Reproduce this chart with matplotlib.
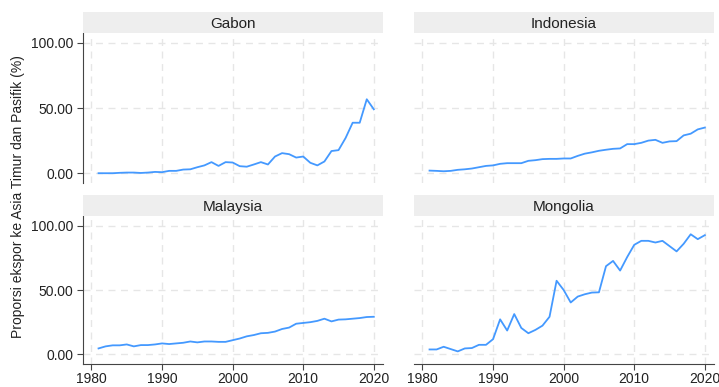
import matplotlib
matplotlib.use("Agg")
import matplotlib.pyplot as plt
import numpy as np

plt.rcParams["font.family"] = ["Liberation Sans", "DejaVu Sans"]

# export share to East Asia & Pacific, 1981-2020
years = np.arange(1981, 2021)

gabon = [0, 0, 0, 0.3, 0.5, 0.5, 0.2, 0.5, 1, 0.8, 1.8, 1.8, 2.8, 3, 4.6, 6, 8.5, 5.6,
         8.5, 8.2, 5.4, 5, 6.7, 8.5, 6.7, 12.8, 15.4, 14.6, 12, 12.8, 8, 6, 9, 17, 17.7,
         27, 38.7, 38.7, 56.7, 49]
indonesia = [2, 1.8, 1.5, 1.8, 2.6, 3, 3.6, 4.6, 5.6, 6, 7.2, 7.7, 7.7, 7.7, 9.5, 10,
             10.8, 11, 11, 11.3, 11.3, 13.3, 15, 16, 17.2, 18, 18.7, 19, 22.3, 22.3, 23.3,
             25, 25.6, 23.3, 24.4, 24.6, 29, 30.3, 33.6, 35]
malaysia = [4.6, 6.2, 7, 7, 7.7, 6.2, 7.2, 7.2, 7.7, 8.5, 8, 8.5, 9, 10, 9.3, 10, 10,
            9.7, 9.7, 11, 12.3, 14, 15, 16.4, 16.7, 17.7, 19.7, 20.8, 23.8, 24.4, 25, 26,
            27.7, 25.6, 27, 27.2, 27.7, 28.2, 29, 29.2]
mongolia = [3.8, 3.8, 5.9, 4.1, 2.3, 4.6, 4.9, 7.4, 7.4, 11.8, 27.2, 18.5, 31.3, 20.5,
            16.4, 19, 22.3, 29.2, 57.2, 50, 40.3, 44.9, 46.7, 48, 48.2, 68.5, 72.6, 65.1,
            75.6, 85.1, 88.2, 88.2, 86.9, 88.2, 84.1, 80, 85.9, 93.3, 89.5, 92.6]

countries = ["Gabon", "Indonesia", "Malaysia", "Mongolia"]
series = [gabon, indonesia, malaysia, mongolia]

W, H = 719, 387
fig = plt.figure(figsize=(W / 100, H / 100), dpi=100)

# panel boxes in pixels: (left, top, right, bottom)
boxes = [(83, 33, 383, 183), (414, 33, 714, 183),
         (83, 216, 383, 364), (414, 216, 714, 364)]
strip_h = 21

line_col = "#4499ff"
spine_col = "#444444"

for i, (name, vals) in enumerate(zip(countries, series)):
    l, t, r, b = boxes[i]
    ax = fig.add_axes([l / W, 1 - b / H, (r - l) / W, (b - t) / H])
    ax.plot(years, vals, color=line_col, lw=1.3)
    ax.set_xlim(1978.8, 2021.3)
    ax.set_ylim(-7.5, 107.5)
    ax.set_xticks([1980, 1990, 2000, 2010, 2020])
    ax.set_yticks([0, 50, 100])
    ax.grid(True, color="#e6e6e6", lw=1.0, ls=(0, (5, 4)))
    ax.set_axisbelow(True)
    for s in ax.spines.values():
        s.set_visible(False)
    left_col = i % 2 == 0
    bottom_row = i >= 2
    if left_col:
        ax.spines["left"].set_visible(True)
        ax.spines["left"].set_color(spine_col)
        ax.set_yticklabels(["0.00", "50.00", "100.00"])
    ax.tick_params(axis="y", length=4 if left_col else 0, color=spine_col,
                   labelsize=10, labelcolor="#222222", labelleft=left_col, pad=3)
    if bottom_row:
        ax.spines["bottom"].set_visible(True)
        ax.spines["bottom"].set_color(spine_col)
    ax.tick_params(axis="x", length=4 if bottom_row else 0, color=spine_col,
                   labelsize=10, labelcolor="#222222", labelbottom=bottom_row, pad=2)

    # facet strip
    sax = fig.add_axes([l / W, 1 - t / H, (r - l) / W, strip_h / H])
    sax.set_facecolor("#eeeeee")
    sax.set_xticks([])
    sax.set_yticks([])
    for s in sax.spines.values():
        s.set_visible(False)
    sax.text(0.5, 0.45, name, ha="center", va="center", fontsize=11,
             color="#222222", transform=sax.transAxes)

fig.text(18 / W, 1 - 197 / H, "Proporsi ekspor ke Asia Timur dan Pasifik (%)",
         rotation=90, ha="center", va="center", fontsize=10, color="#222222")

fig.savefig("out.png", dpi=100)
